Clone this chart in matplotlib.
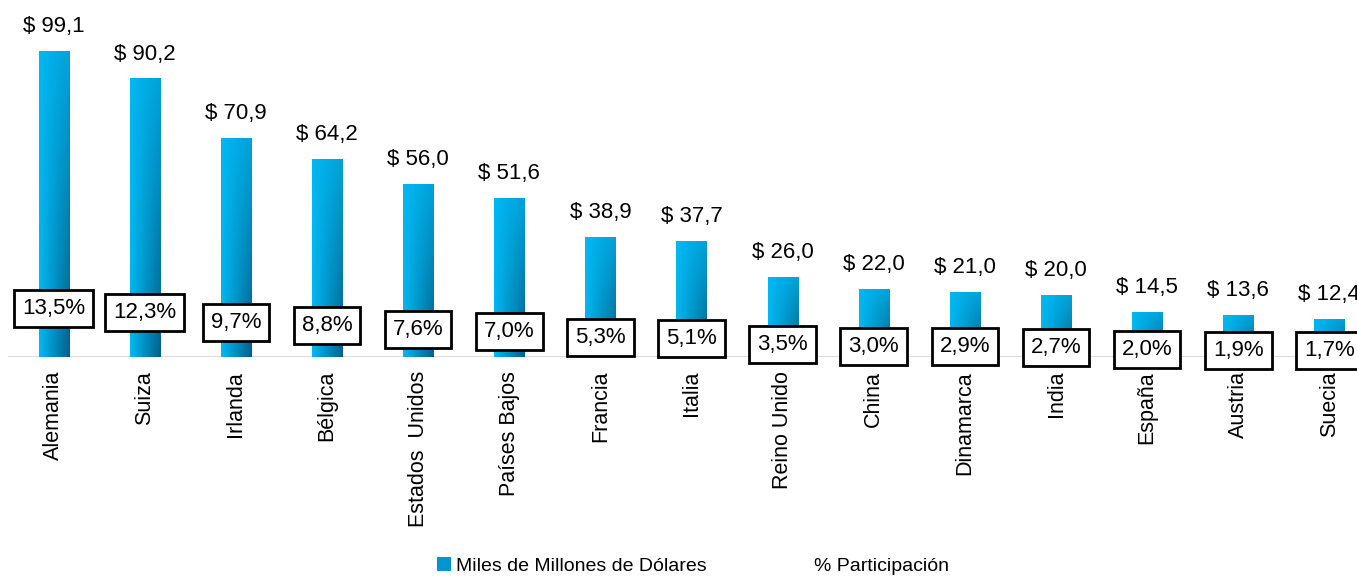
"""
Exportaciones por pais de destino: barras (miles de millones de USD)
con cajas de % de participacion.
"""

import numpy as np
import matplotlib
matplotlib.use("Agg")
import matplotlib.pyplot as plt
from matplotlib.patches import Patch
from matplotlib.lines import Line2D

paises = ["Alemania", "Suiza", "Irlanda", "Bélgica", "Estados  Unidos",
          "Países Bajos", "Francia", "Italia", "Reino Unido", "China",
          "Dinamarca", "India", "España", "Austria", "Suecia"]
valores = [99.1, 90.2, 70.9, 64.2, 56.0, 51.6, 38.9, 37.7, 26.0, 22.0,
           21.0, 20.0, 14.5, 13.6, 12.4]
participacion = [13.5, 12.3, 9.7, 8.8, 7.6, 7.0, 5.3, 5.1, 3.5, 3.0,
                 2.9, 2.7, 2.0, 1.9, 1.7]

FONT = ["Liberation Sans Narrow", "Liberation Sans", "DejaVu Sans"]
plt.rcParams["font.family"] = FONT

W, H = 1357, 577
fig = plt.figure(figsize=(W / 100, H / 100), dpi=100)

# el eje sale un poco por la derecha, como en el original recortado
ax = fig.add_axes([8 / W, (H - 357) / H, 1367 / W, 352 / H])
ax2 = ax.twinx()

x = np.arange(len(paises))
bars = ax.bar(x, valores, width=0.33, color="#00A6E0", zorder=2)

# degradado dentro de cada barra
light = np.array([0x00, 0xB8, 0xF2]) / 255
dark = np.array([0x00, 0x60, 0x8A]) / 255
t = np.linspace(0, 1, 40)[None, :, None]
s = np.linspace(0, 1, 80)[:, None, None]
f = t * (0.25 + 0.75 * s)
grad = light * (1 - f) + dark * f
for b in bars:
    bx, by = b.get_x(), b.get_y()
    bw, bh = b.get_width(), b.get_height()
    im = ax.imshow(grad, extent=[bx, bx + bw, by - 0.6, by + bh],
                   aspect="auto", zorder=3, origin="upper")
    im.set_clip_path(b)

for xi, v in zip(x, valores):
    ax.annotate("$ " + f"{v:.1f}".replace(".", ","), (xi, v),
                xytext=(0, 13.5), textcoords="offset points",
                ha="center", va="baseline", fontsize=16, zorder=5)

ax.set_xlim(-0.5, len(paises) - 0.5)
ax.set_ylim(0, 352 / 3.09)
ax2.set_ylim(0, 352 / 3.6)

# cajas de participacion sobre una serie invisible
for xi, p in zip(x, participacion):
    ax2.text(xi, p, f"{p:.1f}".replace(".", ",") + "%", ha="center",
             va="center", fontsize=16, zorder=6,
             bbox=dict(boxstyle="square,pad=0.36", fc="white",
                       ec="black", lw=2))

for a in (ax, ax2):
    a.set_yticks([])
    for side in ("top", "right", "left", "bottom"):
        a.spines[side].set_visible(False)
ax.axhline(0, color="#D9D9D9", lw=2, zorder=1)

ax.set_xticks(x)
ax.set_xticklabels(paises, rotation=90, fontsize=15.5)
ax.tick_params(axis="x", length=0, pad=10)

handles = [Patch(facecolor="#0296D0", edgecolor="none"),
           Line2D([], [], linestyle="none")]
fig.legend(handles, ["Miles de Millones de Dólares", "% Participación"],
           loc="center", bbox_to_anchor=(693 / W, 1 - 566 / H), ncol=2,
           frameon=False, fontsize=14, handlelength=0.7, handleheight=0.7,
           handletextpad=0.3, columnspacing=4.5)

fig.savefig("out.png", dpi=100)
